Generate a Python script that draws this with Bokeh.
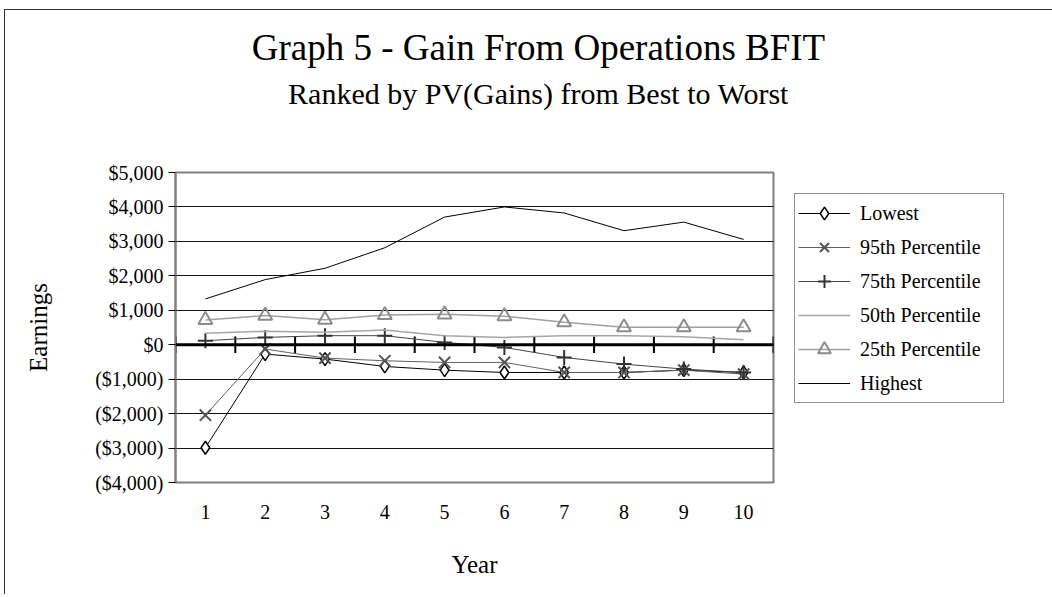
from bokeh.plotting import figure
from bokeh.layouts import column
from bokeh.models import (Span, Legend, LegendItem, Label, FixedTicker, Range1d)
from bokeh.embed import file_html
from bokeh.resources import INLINE
import numpy as np

years = [1, 2, 3, 4, 5, 6, 7, 8, 9, 10]
lowest = [-2990, -272, -417, -631, -738, -806, -806, -806, -738, -806]
p95 = [-2047, -126, -388, -466, -514, -514, -805, -805, -738, -854]
p75 = [116, 213, 262, 262, 68, -78, -370, -563, -708, -806]
p50 = [330, 390, 360, 428, 262, 212, 262, 262, 233, 145]
p25 = [720, 845, 728, 863, 882, 830, 650, 505, 505, 505]
highest = [1330, 1890, 2220, 2815, 3706, 4000, 3825, 3310, 3560, 3057]
y_ticks = [-4000, -3000, -2000, -1000, 0, 1000, 2000, 3000, 4000, 5000]
title_text = "Graph 5 - Gain From Operations BFIT"
subtitle_text = "Ranked by PV(Gains) from Best to Worst"

FONT = "'Liberation Serif', serif"

def money(v):
    s = "${:,}".format(abs(v))
    return "(" + s + ")" if v < 0 else s

# page geometry
ML, MT = 4, 9                 # outer margin before the 1px chart border
OX, OY = ML + 1, MT + 1       # page position of canvas origin
W = 1052 - ML - 2
HT = 130                      # height of title strip
HM = 597 - MT - 2 - HT - 2    # height of main figure
FL, FT, FW, FH = 175 - OX, 172 - OY - HT, 598, 310

# ---- title strip (its data coordinates are page pixels) ----
t = figure(frame_width=W - FL, frame_height=HT, output_backend="svg",
           toolbar_location=None, x_axis_type=None, y_axis_type=None,
           x_range=Range1d(FL + OX, W + OX), y_range=Range1d(OY + HT, OY),
           min_border_left=FL, min_border_right=0,
           min_border_top=0, min_border_bottom=0)
t.title = None
t.outline_line_color = None
t.background_fill_color = "white"
t.border_fill_color = "white"
t.add_layout(Label(x=538, y=47, text=title_text,
                   text_font=FONT, text_font_size="37px", text_color="black",
                   text_align="center", text_baseline="middle"))
t.add_layout(Label(x=538, y=93, text=subtitle_text,
                   text_font=FONT, text_font_size="30px", text_color="black",
                   text_align="center", text_baseline="middle"))

# ---- main chart ----
p = figure(width=W, height=HM, output_backend="svg", toolbar_location=None,
           x_range=(0.5, 10.5), y_range=(-4000, 5000),
           min_border_left=FL, min_border_top=FT,
           min_border_right=W - FL - FW, min_border_bottom=HM - FT - FH,
           frame_width=FW, frame_height=FH)
p.title = None
p.background_fill_color = "white"
p.border_fill_color = "white"
p.outline_line_color = "#808080"
p.outline_line_width = 2

# grid
p.xgrid.grid_line_color = None
p.ygrid.grid_line_color = "#111111"
p.ygrid.grid_line_width = 1
p.ygrid.ticker = FixedTicker(ticks=y_ticks)

# y axis
p.yaxis.ticker = FixedTicker(ticks=y_ticks)
p.yaxis.major_label_overrides = {v: money(v) for v in y_ticks}
p.yaxis.major_label_text_font = FONT
p.yaxis.major_label_text_font_size = "20px"
p.yaxis.major_label_text_color = "black"
p.yaxis.major_tick_in = 0
p.yaxis.major_tick_out = 7
p.yaxis.major_tick_line_color = "black"
p.yaxis.minor_tick_line_color = None
p.yaxis.axis_line_color = "#808080"
p.yaxis.axis_line_width = 2
p.yaxis.major_label_standoff = 5
p.yaxis.axis_label = "Earnings"
p.yaxis.axis_label_text_font = FONT
p.yaxis.axis_label_text_font_style = "normal"
p.yaxis.axis_label_text_font_size = "25px"
p.yaxis.axis_label_text_color = "black"
p.yaxis.axis_label_standoff = 40

# x axis
p.xaxis.ticker = FixedTicker(ticks=years)
p.xaxis.major_label_text_font = FONT
p.xaxis.major_label_text_font_size = "20px"
p.xaxis.major_label_text_color = "black"
p.xaxis.major_tick_line_color = None
p.xaxis.minor_tick_line_color = None
p.xaxis.axis_line_color = None
p.xaxis.major_label_standoff = 16
p.xaxis.axis_label = "Year"
p.xaxis.axis_label_text_font = FONT
p.xaxis.axis_label_text_font_style = "normal"
p.xaxis.axis_label_text_font_size = "25px"
p.xaxis.axis_label_text_color = "black"
p.xaxis.axis_label_standoff = 29

# zero axis line with crossing ticks between categories
p.add_layout(Span(location=0, dimension="width", line_color="black", line_width=3))
bx = np.arange(0.5, len(years) + 1, 1.0)
p.segment(x0=bx, x1=bx, y0=-240, y1=240, line_color="black", line_width=2)

# series
r_low_l = p.line(years, lowest, line_color="black", line_width=1)
r_low_m = p.scatter(years, lowest, marker="diamond", size=13,
                    line_color="black", line_width=1.5, fill_color="white")

r_95_l = p.line(years, p95, line_color="#606060", line_width=1)
r_95_m = p.scatter(years, p95, marker="x", size=16, line_color="#555555", line_width=2)

r_75_l = p.line(years, p75, line_color="#444444", line_width=1)
r_75_m = p.scatter(years, p75, marker="cross", size=15, line_color="#333333", line_width=2)

r_50_l = p.line(years, p50, line_color="#a6a6a6", line_width=1.5)

r_25_l = p.line(years, p25, line_color="#a0a0a0", line_width=1.5)
r_25_m = p.scatter(years, p25, marker="triangle", size=14, line_color="#8c8c8c",
                   line_width=2, fill_alpha=0)

r_hi_l = p.line(years, highest, line_color="black", line_width=1)

legend = Legend(items=[
    LegendItem(label="Lowest", renderers=[r_low_l, r_low_m]),
    LegendItem(label="95th Percentile", renderers=[r_95_l, r_95_m]),
    LegendItem(label="75th Percentile", renderers=[r_75_l, r_75_m]),
    LegendItem(label="50th Percentile", renderers=[r_50_l]),
    LegendItem(label="25th Percentile", renderers=[r_25_l, r_25_m]),
    LegendItem(label="Highest", renderers=[r_hi_l]),
], location="top_left")
legend.label_text_font = FONT
legend.label_text_font_size = "20px"
legend.label_text_color = "black"
legend.glyph_width = 52
legend.glyph_height = 32
legend.label_height = 32
legend.label_width = 140
legend.spacing = 2
legend.padding = 3
legend.margin = 21
legend.label_standoff = 10
legend.border_line_color = "#222222"
legend.border_line_width = 1
legend.background_fill_color = "white"
p.add_layout(legend, "right")

layout = column(t, p, spacing=0,
                styles={"border-left": "1px solid #333", "border-top": "1px solid #333",
                        "margin-left": f"{ML}px", "margin-top": f"{MT}px"})

open("out.html", "w").write(file_html(layout, INLINE))
